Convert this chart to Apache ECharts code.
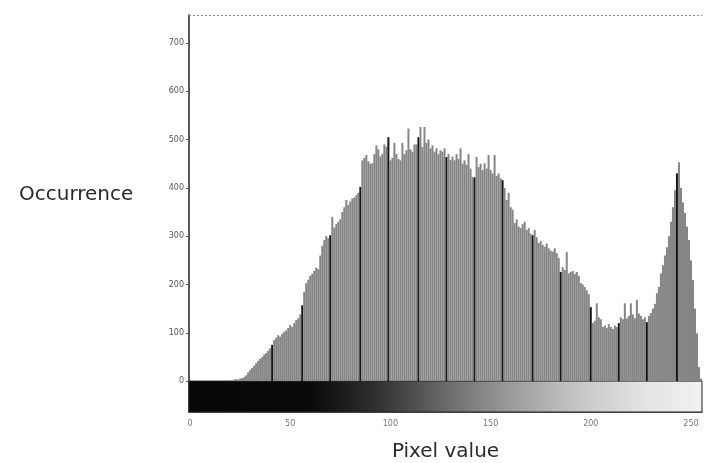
<!DOCTYPE html>
<html>
<head>
<meta charset="utf-8">
<script src="https://cdn.jsdelivr.net/npm/echarts@6/dist/echarts.min.js"></script>
<style>
  html, body { margin: 0; padding: 0; background: #ffffff; }
  #chart { width: 706px; height: 463px; }
</style>
</head>
<body>
<div id="chart"></div>
<script>
// Grey levels 0..255 (one histogram bin per level)
const pixelValues = [];
for (let v = 0; v <= 255; v++) pixelValues.push(String(v));

// Number of pixels found at each grey level
const counts = [
  0, 0, 0, 0, 0, 0, 0, 0, 0, 0, 0, 0, 0, 0, 0, 0,
  0, 0, 0, 0, 2, 0, 3, 4, 3, 5, 6, 8, 12, 18, 23, 27,
  32, 37, 42, 46, 50, 55, 58, 63, 68, 75, 85, 90, 95, 92, 98, 102,
  105, 110, 116, 112, 120, 126, 130, 138, 157, 185, 203, 210, 218, 222, 228, 235,
  232, 260, 280, 292, 300, 296, 302, 340, 318, 325, 330, 335, 350, 360, 375, 365,
  372, 378, 380, 385, 390, 402, 457, 462, 468, 455, 450, 451, 470, 488, 480, 465,
  470, 490, 485, 505, 457, 462, 493, 470, 460, 457, 493, 470, 478, 523, 480, 475,
  490, 490, 505, 526, 485, 526, 493, 500, 482, 488, 475, 482, 470, 478, 475, 482,
  464, 470, 458, 465, 457, 470, 460, 482, 450, 457, 448, 470, 440, 422, 422, 464,
  443, 450, 437, 451, 440, 468, 437, 430, 468, 425, 430, 420, 416, 400, 375, 390,
  360, 355, 327, 335, 320, 317, 325, 330, 313, 317, 305, 302, 313, 298, 286, 290,
  282, 278, 285, 275, 270, 268, 275, 265, 255, 226, 236, 230, 267, 223, 226, 228,
  222, 226, 218, 203, 200, 195, 188, 180, 153, 120, 125, 161, 132, 128, 112, 115,
  110, 118, 112, 108, 115, 112, 120, 132, 128, 161, 130, 135, 161, 138, 130, 168,
  140, 135, 128, 132, 122, 135, 141, 150, 160, 182, 195, 223, 240, 260, 277, 300,
  330, 360, 395, 430, 453, 400, 370, 348, 320, 292, 250, 209, 150, 99, 29, 5
];

// Bins drawn as dark stripes
const darkBins = [41, 56, 70, 85, 99, 114, 128, 142, 156, 171, 185, 200, 214, 228, 243];

// Axis tick labels
const yTicks = [0, 100, 200, 300, 400, 500, 600, 700];
const xTicks = [0, 50, 100, 150, 200, 250];

const BAR_GREY = '#858585';
const BAR_DARK = '#161616';
const STRIP_DEPTH = -64;   // grey-level strip sits below the zero line
const Y_TOP = 758;

const barData = counts.map((c, i) => ({
  value: c,
  itemStyle: { color: darkBins.indexOf(i) >= 0 ? BAR_DARK : BAR_GREY }
}));

const chart = echarts.init(document.getElementById('chart'), null, { renderer: 'canvas' });

chart.setOption({
  backgroundColor: '#ffffff',
  animation: false,
  title: {
    text: 'Occurrence',
    left: 14,
    top: 180,
    textStyle: {
      fontFamily: 'DejaVu Sans',
      fontSize: 20,
      fontWeight: 'normal',
      color: '#2a2a2a'
    }
  },
  grid: {
    left: 189,
    right: 4,
    top: 15,
    bottom: 51,
    outerBoundsMode: 'none'
  },
  xAxis: {
    type: 'category',
    data: pixelValues,
    boundaryGap: true,
    name: 'Pixel value',
    nameLocation: 'middle',
    nameGap: 30,
    nameTextStyle: {
      fontFamily: 'DejaVu Sans',
      fontSize: 20,
      color: '#2a2a2a'
    },
    axisLine: { onZero: false, lineStyle: { color: '#333', width: 1.5 } },
    axisTick: {
      alignWithLabel: true,
      length: 3,
      interval: (i) => xTicks.indexOf(i) >= 0,
      lineStyle: { color: '#555' }
    },
    axisLabel: {
      interval: (i) => xTicks.indexOf(i) >= 0,
      margin: 8,
      fontFamily: 'DejaVu Sans',
      fontSize: 8,
      color: '#777'
    },
    splitLine: { show: false }
  },
  yAxis: {
    type: 'value',
    min: STRIP_DEPTH,
    max: Y_TOP,
    axisLine: { show: true, lineStyle: { color: '#222', width: 1.5 } },
    axisTick: {
      show: true,
      length: 3,
      customValues: yTicks,
      lineStyle: { color: '#555' }
    },
    axisLabel: {
      customValues: yTicks,
      margin: 5,
      fontFamily: 'DejaVu Sans',
      fontSize: 8,
      color: '#555'
    },
    splitLine: { show: false }
  },
  series: [
    {
      type: 'bar',
      data: barData,
      barCategoryGap: '0%',
      barGap: '0%',
      silent: true,
      // dotted frame line along the top of the plot
      markLine: {
        silent: true,
        symbol: 'none',
        label: { show: false },
        lineStyle: { color: '#8a8a8a', type: [2, 2], width: 1 },
        data: [{ yAxis: Y_TOP }]
      },
      // grey-level reference strip under the histogram
      markArea: {
        silent: true,
        itemStyle: {
          color: {
            type: 'linear',
            x: 0, y: 0, x2: 1, y2: 0,
            colorStops: [
              { offset: 0.0, color: '#060606' },
              { offset: 0.24, color: '#0a0a0a' },
              { offset: 0.36, color: '#2e2e2e' },
              { offset: 0.5, color: '#6a6a6a' },
              { offset: 0.62, color: '#999999' },
              { offset: 0.75, color: '#c4c4c4' },
              { offset: 0.88, color: '#e2e2e2' },
              { offset: 1.0, color: '#f2f2f2' }
            ]
          },
          borderColor: '#222',
          borderWidth: 1
        },
        data: [[{ yAxis: STRIP_DEPTH }, { yAxis: 0 }]]
      }
    }
  ]
});
</script>
</body>
</html>
